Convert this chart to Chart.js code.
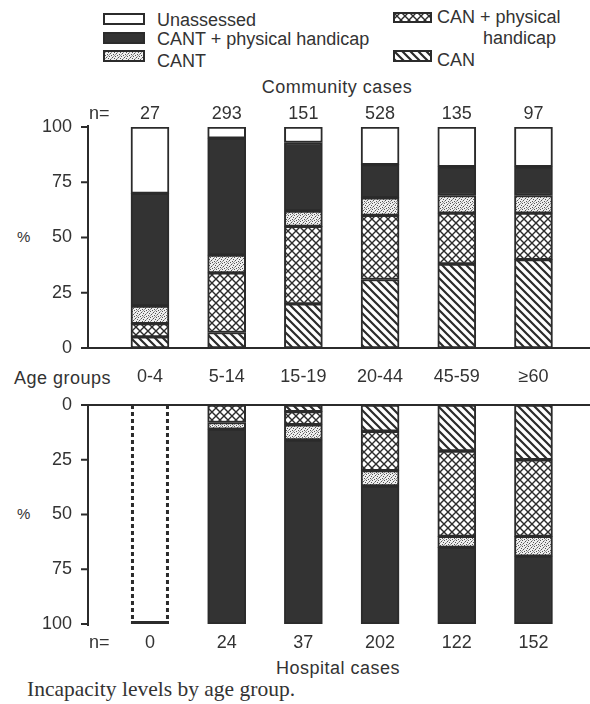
<!DOCTYPE html>
<html>
<head>
<meta charset="utf-8">
<script src="https://cdn.jsdelivr.net/npm/chart.js@4.4.0/dist/chart.umd.min.js"></script>
<style>
  body { margin: 0; background: #fff; width: 590px; height: 704px; position: relative; overflow: hidden;
         font-family: "Liberation Sans", Arial, sans-serif; color: #333; }
  .t { position: absolute; white-space: nowrap; font-size: 18px; line-height: 1; }
  .sw { position: absolute; }
  #wrap1 { position: absolute; left: 0; top: 95px; width: 590px; height: 265px; }
  #wrap2 { position: absolute; left: 0; top: 360px; width: 590px; height: 300px; }
  .cap { font-family: "Liberation Serif", "Times New Roman", serif; font-size: 21.5px; }
</style>
</head>
<body>

<canvas class="sw" id="swUn" width="42" height="12" style="left:103px;top:13px"></canvas>
<div class="t" style="left:157px;top:11px">Unassessed</div>
<canvas class="sw" id="swCantPh" width="42" height="12" style="left:103px;top:32px"></canvas>
<div class="t" style="left:157px;top:30px">CANT + physical handicap</div>
<canvas class="sw" id="swCant" width="42" height="12" style="left:103px;top:50px"></canvas>
<div class="t" style="left:157px;top:52px">CANT</div>
<canvas class="sw" id="swCanPh" width="39" height="11" style="left:393px;top:12px"></canvas>
<div class="t" style="left:437px;top:8px">CAN + physical</div>
<div class="t" style="left:483px;top:29px">handicap</div>
<canvas class="sw" id="swCan" width="39" height="12" style="left:393px;top:50px"></canvas>
<div class="t" style="left:437px;top:51px">CAN</div>

<div class="t" style="left:337px;top:78px;transform:translateX(-50%);letter-spacing:0.5px">Community cases</div>
<div class="t" style="left:17px;top:229px;font-size:15px">%</div>
<div class="t" style="left:14px;top:369px;letter-spacing:0.5px">Age groups</div>
<div class="t" style="left:17px;top:506px;font-size:15px">%</div>
<div class="t" style="left:338px;top:659px;transform:translateX(-50%);letter-spacing:0.5px">Hospital cases</div>
<div class="t cap" style="left:27px;top:679px">Incapacity levels by age group.</div>

<div id="wrap1"><canvas id="community"></canvas></div>
<div id="wrap2"><canvas id="hospital"></canvas></div>

<script>
// categories and sample sizes
const ageGroups = ['0-4', '5-14', '15-19', '20-44', '45-59', '\u226560'];
const communityN = [27, 293, 151, 528, 135, 97];
const hospitalN = [0, 24, 37, 202, 122, 152];
const yTicks = [0, 25, 50, 75, 100];

// community cases, % of each age group (stacked from the bottom)
const comCAN = [5, 7, 20, 31, 38, 40];
const comCANPhys = [6, 27, 35, 29, 23, 21];
const comCANT = [8, 8, 7, 8, 8, 8];
const comCANTPhys = [51, 53, 31, 15, 13, 13];
const comUnassessed = [30, 5, 7, 17, 18, 18];

// hospital cases, % of each age group (stacked from the top)
const hospCAN = [0, 0, 3, 12, 21, 25];
const hospCANPhys = [0, 8, 6, 18, 39, 35];
const hospCANT = [0, 3, 7, 7, 5, 9];
const hospCANTPhys = [0, 89, 84, 63, 35, 31];
const hospNoCases = [100, 0, 0, 0, 0, 0]; // n = 0, drawn as an empty dashed box

const ink = '#2b2b2b';
const dark = '#333';
const font = { family: '"Liberation Sans", Arial, sans-serif', size: 18 };

// x range: first bar centre ~150px, spacing ~76.7px, plot from 88px to the right edge
const xMin = -0.808;
const xMax = 5.737;
const nLabelPos = -0.66;

function makePattern(kind) {
  const c = document.createElement('canvas');
  const g = c.getContext('2d');
  if (kind === 'diag') {
    const s = 8;
    c.width = s; c.height = s;
    g.fillStyle = '#fff'; g.fillRect(0, 0, s, s);
    g.strokeStyle = ink; g.lineWidth = 2.2;
    g.beginPath();
    g.moveTo(-1, -1); g.lineTo(s + 1, s + 1);
    g.moveTo(-1, s - 1); g.lineTo(1, s + 1);
    g.moveTo(s - 1, -1); g.lineTo(s + 1, 1);
    g.stroke();
  } else if (kind === 'cross') {
    const s = 8;
    c.width = s; c.height = s;
    g.fillStyle = '#fff'; g.fillRect(0, 0, s, s);
    g.strokeStyle = ink; g.lineWidth = 1.4;
    g.beginPath();
    g.moveTo(0, 0); g.lineTo(s, s);
    g.moveTo(s, 0); g.lineTo(0, s);
    g.stroke();
  } else if (kind === 'dots') {
    c.width = 6; c.height = 6;
    g.fillStyle = '#eee'; g.fillRect(0, 0, 6, 6);
    g.fillStyle = '#555';
    [[0, 0], [3, 1], [1, 3], [4, 4], [2, 5], [5, 2]].forEach(p => g.fillRect(p[0], p[1], 1, 1));
    g.fillStyle = '#999';
    [[2, 2], [5, 5], [0, 4], [4, 0]].forEach(p => g.fillRect(p[0], p[1], 1, 1));
  }
  return g.createPattern(c, 'repeat');
}

const fills = {
  can: makePattern('diag'),
  canPhys: makePattern('cross'),
  cant: makePattern('dots'),
  cantPhys: dark,
  unassessed: '#fff'
};

function swatch(id, fill) {
  const c = document.getElementById(id);
  const g = c.getContext('2d');
  g.fillStyle = fill;
  g.fillRect(0, 0, c.width, c.height);
  g.strokeStyle = ink; g.lineWidth = 2;
  g.strokeRect(1, 1, c.width - 2, c.height - 2);
}
swatch('swUn', fills.unassessed);
swatch('swCantPh', fills.cantPhys);
swatch('swCant', fills.cant);
swatch('swCanPh', fills.canPhys);
swatch('swCan', fills.can);

function series(label, values, fill) {
  return {
    label,
    data: values.map((v, i) => ({ x: i, y: v })),
    backgroundColor: fill,
    borderColor: ink,
    borderWidth: 2,
    borderSkipped: false,
    barThickness: 38
  };
}

function noPad(s) {
  s.paddingLeft = 0; s.paddingRight = 0; s.paddingTop = 0; s.paddingBottom = 0;
}

function nAxis(position, counts, pad, h) {
  return {
    type: 'linear', position, min: xMin, max: xMax, offset: false,
    grid: { display: false, drawTicks: false }, border: { display: false },
    afterBuildTicks: s => { s.ticks = [{ value: nLabelPos }].concat(counts.map((v, i) => ({ value: i }))); },
    ticks: {
      autoSkip: false, maxRotation: 0, padding: pad, font, color: dark,
      callback: v => v < 0 ? 'n=' : String(counts[v])
    },
    afterFit: s => { s.height = h; noPad(s); }
  };
}

function yAxis(reverse) {
  return {
    stacked: true, min: 0, max: 100, reverse,
    afterBuildTicks: s => { s.ticks = yTicks.map(v => ({ value: v })); },
    grid: { display: false, drawTicks: false },
    border: { display: false },
    ticks: { padding: 16, font, color: dark },
    afterFit: s => { s.width = 88; noPad(s); }
  };
}

// axis lines and tick marks, placed from the scales
function drawAxes(chart) {
  const ctx = chart.ctx;
  const a = chart.chartArea;
  const y = chart.scales.y;
  const reverse = !!y.options.reverse;
  ctx.save();
  ctx.setLineDash([]);
  ctx.strokeStyle = ink;
  ctx.lineWidth = 2;
  ctx.beginPath();
  ctx.moveTo(a.left, a.top - (reverse ? 1 : 2));
  ctx.lineTo(a.left, a.bottom + (reverse ? 2 : 1));
  yTicks.forEach(v => {
    const py = y.getPixelForValue(v);
    ctx.moveTo(a.left - 7, py);
    ctx.lineTo(a.left, py);
  });
  const base = reverse ? a.top : a.bottom;
  ctx.moveTo(a.left - 1, base);
  ctx.lineTo(a.right, base);
  ctx.stroke();
  ctx.restore();
}

const axisLines = {
  id: 'axisLines',
  afterDatasetsDraw(chart) { drawAxes(chart); }
};

const common = {
  responsive: true,
  maintainAspectRatio: false,
  animation: false,
  plugins: { legend: { display: false }, tooltip: { enabled: false } }
};

new Chart(document.getElementById('community'), {
  type: 'bar',
  data: {
    datasets: [
      series('CAN', comCAN, fills.can),
      series('CAN + physical handicap', comCANPhys, fills.canPhys),
      series('CANT', comCANT, fills.cant),
      series('CANT + physical handicap', comCANTPhys, fills.cantPhys),
      series('Unassessed', comUnassessed, fills.unassessed)
    ]
  },
  options: Object.assign({}, common, {
    layout: { padding: { left: 0, right: 0, top: 0, bottom: 12 } },
    scales: {
      x: {
        type: 'linear', stacked: true, position: 'bottom', min: xMin, max: xMax, offset: false,
        grid: { display: false, drawTicks: false },
        border: { display: false },
        ticks: { display: false },
        afterFit: s => { s.height = 0; noPad(s); }
      },
      n: nAxis('top', communityN, 2, 32),
      y: yAxis(false)
    }
  }),
  plugins: [axisLines]
});

const dashedBox = {
  id: 'dashedBox',
  afterDatasetsDraw(chart) {
    const meta = chart.getDatasetMeta(4);
    const ctx = chart.ctx;
    meta.data.forEach((bar, i) => {
      if (!hospNoCases[i]) return;
      const half = bar.width / 2;
      ctx.save();
      ctx.strokeStyle = ink;
      ctx.lineWidth = 3;
      ctx.setLineDash([4, 3]);
      ctx.beginPath();
      ctx.moveTo(bar.x - half + 1.5, bar.base); ctx.lineTo(bar.x - half + 1.5, bar.y);
      ctx.moveTo(bar.x + half - 1.5, bar.base); ctx.lineTo(bar.x + half - 1.5, bar.y);
      ctx.stroke();
      ctx.setLineDash([]);
      ctx.beginPath();
      ctx.moveTo(bar.x - half, bar.y - 1.5); ctx.lineTo(bar.x + half, bar.y - 1.5);
      ctx.stroke();
      ctx.restore();
    });
  }
};

new Chart(document.getElementById('hospital'), {
  type: 'bar',
  data: {
    datasets: [
      series('CAN', hospCAN, fills.can),
      series('CAN + physical handicap', hospCANPhys, fills.canPhys),
      series('CANT', hospCANT, fills.cant),
      series('CANT + physical handicap', hospCANTPhys, fills.cantPhys),
      Object.assign(series('No cases', hospNoCases, 'rgba(0,0,0,0)'), { borderWidth: 0 })
    ]
  },
  options: Object.assign({}, common, {
    layout: { padding: { left: 0, right: 0, top: 0, bottom: 0 } },
    scales: {
      x: {
        type: 'linear', stacked: true, position: 'top', min: xMin, max: xMax, offset: false,
        grid: { display: false, drawTicks: false },
        border: { display: false },
        afterBuildTicks: s => { s.ticks = ageGroups.map((v, i) => ({ value: i })); },
        ticks: { autoSkip: false, maxRotation: 0, padding: 17, font, color: dark,
                 callback: v => ageGroups[v] },
        afterFit: s => { s.height = 45; noPad(s); }
      },
      n: nAxis('bottom', hospitalN, 8, 36),
      y: yAxis(true)
    }
  }),
  plugins: [dashedBox, axisLines]
});
</script>
</body>
</html>
